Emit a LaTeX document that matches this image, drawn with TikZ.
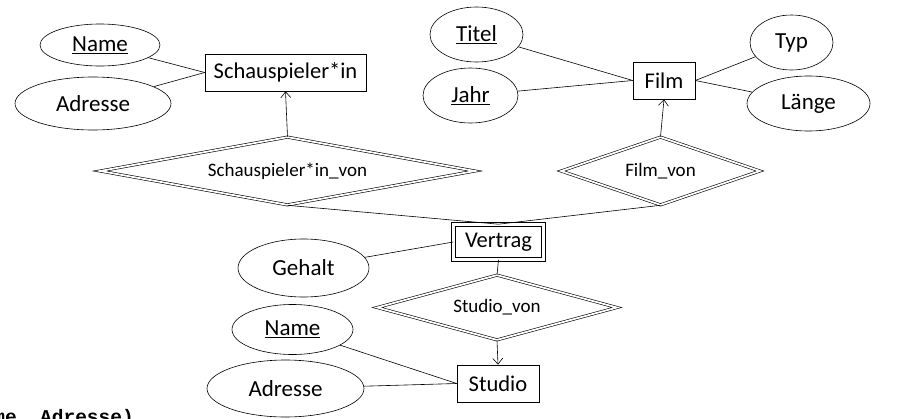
\documentclass[tikz,border=0pt]{standalone}
\usepackage{fontspec}
\setmainfont{Carlito}
\newfontfamily\codefont{Liberation Mono}
\usetikzlibrary{shapes.geometric,arrows.meta}
\tikzset{
  attr/.style={draw, ellipse, inner sep=0pt, line width=0.6pt, font=\fontsize{23}{25}\selectfont},
  entity/.style={draw, rectangle, inner sep=0pt, line width=0.6pt, font=\fontsize{22.5}{24}\selectfont},
  weakentity/.style={draw, rectangle, inner sep=0pt, line width=0.6pt, double, double distance=3.4pt, font=\fontsize{22.5}{24}\selectfont},
  rel/.style={draw, diamond, inner sep=0pt, line width=0.6pt, double, double distance=1.8pt, font=\fontsize{19}{20}\selectfont},
  conn/.style={line width=0.6pt},
  arr/.style={line width=0.6pt, -{Straight Barb[length=6pt,width=10pt,line width=0.6pt]}}
}
\begin{document}
\begin{tikzpicture}[x=1pt,y=-1pt]
\useasboundingbox (0,0) rectangle (919,418);
\clip (0,0) rectangle (919,418);
% top left
\node[attr, minimum width=120pt, minimum height=42pt] (name1) at (100,45) {\underline{Name}};
\node[attr, minimum width=156pt, minimum height=53pt] (addr1) at (93,103.5) {Adresse};
\node[entity, minimum width=161pt, minimum height=37pt] (schausp) at (285.5,72.5) {Schauspieler*in};
\node[rel, shape aspect=5.5, minimum width=375pt, minimum height=68pt] (schvon) at (287.5,171) {Schauspieler*in\_von};
% top right
\node[attr, minimum width=93pt, minimum height=55pt] (titel) at (476.5,34.5) {\underline{Titel}};
\node[attr, minimum width=95pt, minimum height=55pt] (jahr) at (470.5,95.5) {\underline{Jahr}};
\node[entity, minimum width=62pt, minimum height=37pt] (film) at (664,80.5) {Film};
\node[attr, minimum width=83pt, minimum height=55pt] (typ) at (791.5,42.5) {Typ};
\node[attr, minimum width=123pt, minimum height=55pt] (laenge) at (808.5,103.5) {Länge};
\node[rel, shape aspect=2.9, minimum width=199pt, minimum height=68pt] (filmvon) at (660.5,171) {Film\_von};
% middle
\node[weakentity, minimum width=90pt, minimum height=35pt] (vertrag) at (498.5,242) {Vertrag};
\node[attr, minimum width=131pt, minimum height=58pt] (gehalt) at (303.5,268) {Gehalt};
\node[rel, shape aspect=3.7, minimum width=240pt, minimum height=65pt] (studiovon) at (497,307.5) {Studio\_von};
% bottom
\node[entity, minimum width=82pt, minimum height=37pt] (studio) at (498,383.5) {Studio};
\node[attr, minimum width=121pt, minimum height=50pt] (name2) at (292.5,329.5) {\underline{Name}};
\node[attr, minimum width=157pt, minimum height=57pt] (addr2) at (285.5,388.5) {Adresse};
\node[anchor=base east, inner sep=0pt, font=\codefont\bfseries\fontsize{19.5}{20}\selectfont] (code) at (134,423) {me, Adresse)};
% connectors
\draw[conn] (name1) -- (schausp.west);
\draw[conn] (addr1) -- (schausp.west);
\draw[arr] (schvon.north) -- (schausp.south);
\draw[conn] (titel) -- (film.west);
\draw[conn] (jahr) -- (film.west);
\draw[conn] (typ) -- (film.east);
\draw[conn] (laenge) -- (film.east);
\draw[arr] (filmvon.north) -- (film.south);
\draw[conn] (schvon.south) -- (vertrag.north);
\draw[conn] (filmvon.south) -- (vertrag.north);
\draw[conn] (gehalt) -- (vertrag.west);
\draw[conn] (vertrag.south) -- (studiovon.north);
\draw[arr] (studiovon.south) -- (studio.north);
\draw[conn] (name2) -- (studio.west);
\draw[conn] (addr2) -- (studio.west);
\end{tikzpicture}
\end{document}
